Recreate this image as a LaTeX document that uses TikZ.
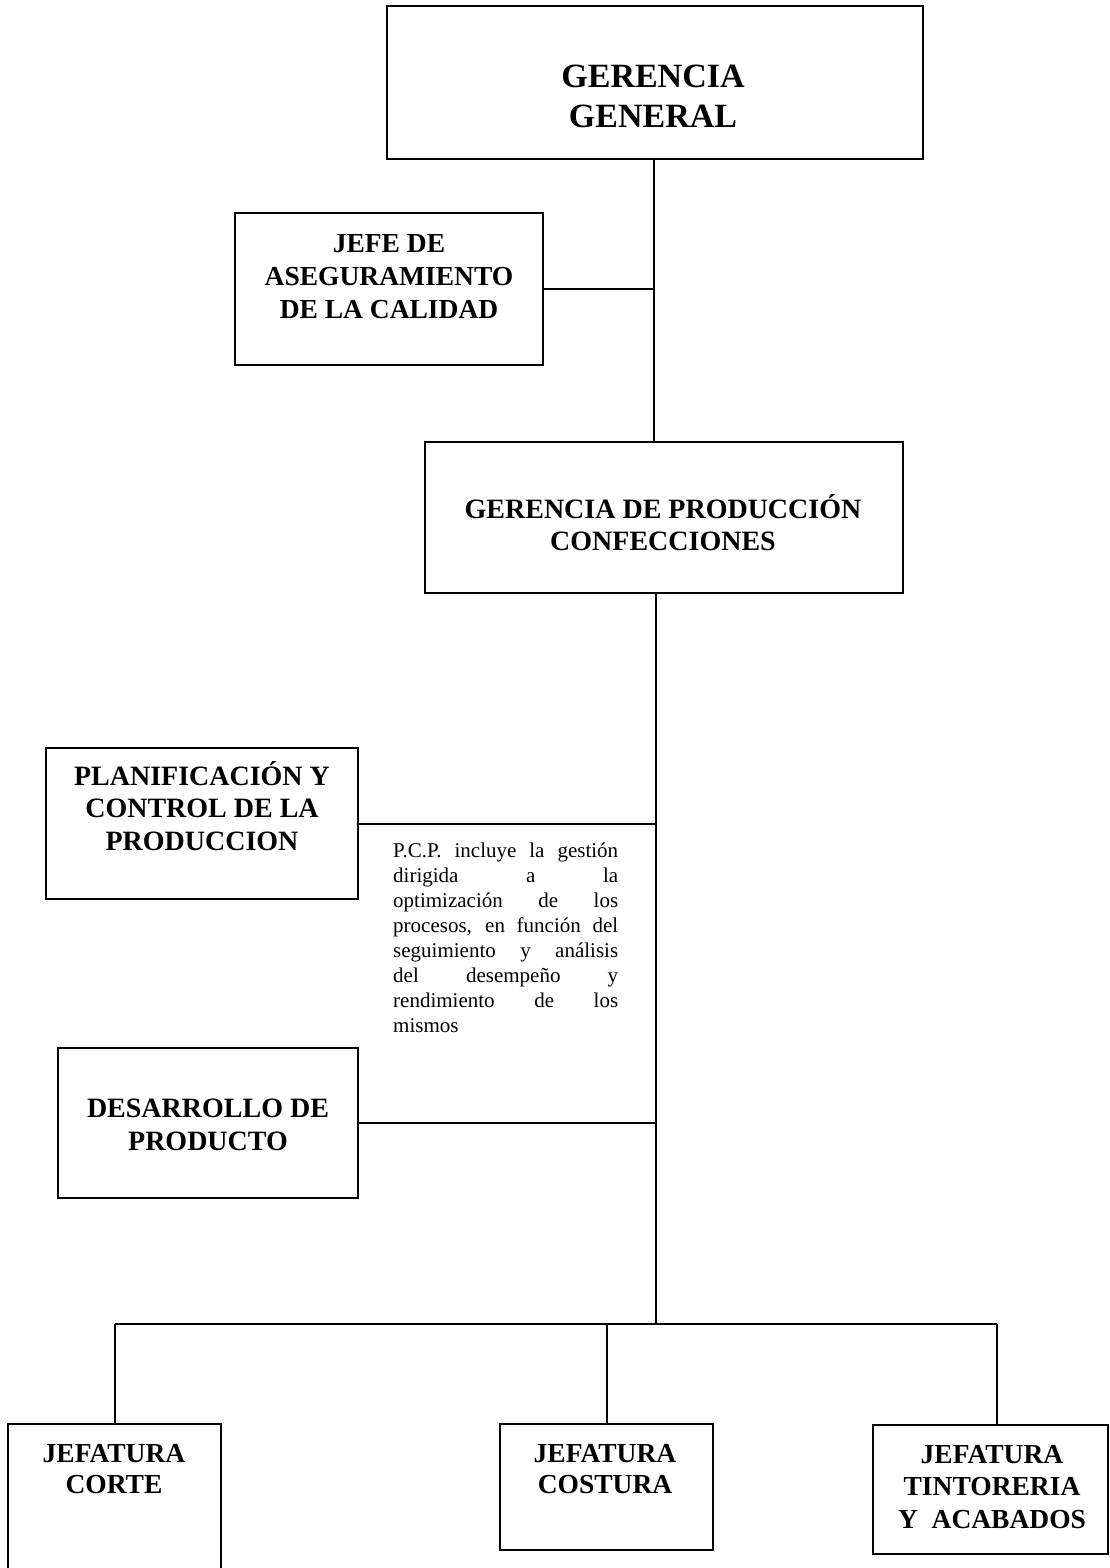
\documentclass[tikz,border=0pt]{standalone}
\usepackage{fontspec}
\setmainfont{Liberation Serif}
\begin{document}
\begin{tikzpicture}[x=1pt,y=-1pt,
  unit/.style 2 args={draw=black, line width=2.4pt, rectangle, inner sep=0pt,
    minimum width=#1pt, minimum height=#2pt},
  lab/.style={inner sep=0pt, anchor=base, font=\bfseries\fontsize{28}{32}\selectfont},
  wire/.style={draw=black, line width=2pt}]
\useasboundingbox[fill=white] (0,0) rectangle (1110,1568);

% boxes
\node[unit={536}{153}] (GG) at (655,82.5) {};
\node[unit={308}{152}] (JA) at (389,289) {};
\node[unit={478}{151}] (GP) at (664,517.5) {};
\node[unit={312}{151}] (PC) at (202,823.5) {};
\node[unit={300}{150}] (DP) at (208,1123) {};
\node[unit={213}{156}] (CO) at (114.5,1502) {};
\node[unit={213}{126}] (CS) at (606.5,1487) {};
\node[unit={235}{129}] (TA) at (990.5,1489.5) {};

% labels
\node[lab, font=\bfseries\fontsize{34}{40}\selectfont] (GGt) at (653,88)
  {\begin{tabular}[t]{@{}c@{}}GERENCIA\\GENERAL\end{tabular}};
\node[lab, font=\bfseries\fontsize{27.5}{33}\selectfont] (JAt) at (389,252)
  {\begin{tabular}[t]{@{}c@{}}JEFE DE\\ASEGURAMIENTO\\DE LA CALIDAD\end{tabular}};
\node[lab] (GPt) at (663,518)
  {\begin{tabular}[t]{@{}c@{}}GERENCIA DE PRODUCCIÓN\\CONFECCIONES\end{tabular}};
\node[lab, font=\bfseries\fontsize{28}{32.5}\selectfont] (PCt) at (202,785)
  {\begin{tabular}[t]{@{}c@{}}PLANIFICACIÓN Y\\CONTROL DE LA\\PRODUCCION\end{tabular}};
\node[lab, font=\bfseries\fontsize{28}{33}\selectfont] (DPt) at (208,1117)
  {\begin{tabular}[t]{@{}c@{}}DESARROLLO DE\\PRODUCTO\end{tabular}};
\node[lab, font=\bfseries\fontsize{27.5}{31}\selectfont] (COt) at (114,1462)
  {\begin{tabular}[t]{@{}c@{}}JEFATURA\\CORTE\end{tabular}};
\node[lab, font=\bfseries\fontsize{27.5}{31}\selectfont] (CSt) at (605,1462)
  {\begin{tabular}[t]{@{}c@{}}JEFATURA\\COSTURA\end{tabular}};
\node[lab, font=\bfseries\fontsize{27.5}{32.5}\selectfont] (TAt) at (992,1463)
  {\begin{tabular}[t]{@{}c@{}}JEFATURA\\TINTORERIA\\Y\ \ ACABADOS\end{tabular}};

% note beside the planning branch
\node[inner sep=0pt, anchor=base west] (note) at (393,857)
  {\parbox[t]{225pt}{\fontsize{21}{25}\selectfont
   \makebox[225pt][s]{P.C.P. incluye la gestión}\\
   \makebox[225pt][s]{dirigida a la}\\
   \makebox[225pt][s]{optimización de los}\\
   \makebox[225pt][s]{procesos, en función del}\\
   \makebox[225pt][s]{seguimiento y análisis}\\
   \makebox[225pt][s]{del desempeño y}\\
   \makebox[225pt][s]{rendimiento de los}\\
   mismos\par}};

% connectors
\coordinate (bus) at (656,1324);
\coordinate (d3) at (997,1324);
\draw[wire] (GG.south -| 654,0) -- (654,0 |- GP.north);
\draw[wire] (JA.east) -- (JA.east -| 654,0);
\draw[wire] (GP.south -| bus) -- (bus);
\draw[wire] (PC.east) -- (PC.east -| bus);
\draw[wire] (DP.east) -- (DP.east -| bus);
\draw[wire] (CO.north |- bus) -- (d3);
\draw[wire] (CO.north |- bus) -- (CO.north);
\draw[wire] (CS.north |- bus) -- (CS.north);
\draw[wire] (d3) -- (d3 |- TA.north);
\end{tikzpicture}
\end{document}
